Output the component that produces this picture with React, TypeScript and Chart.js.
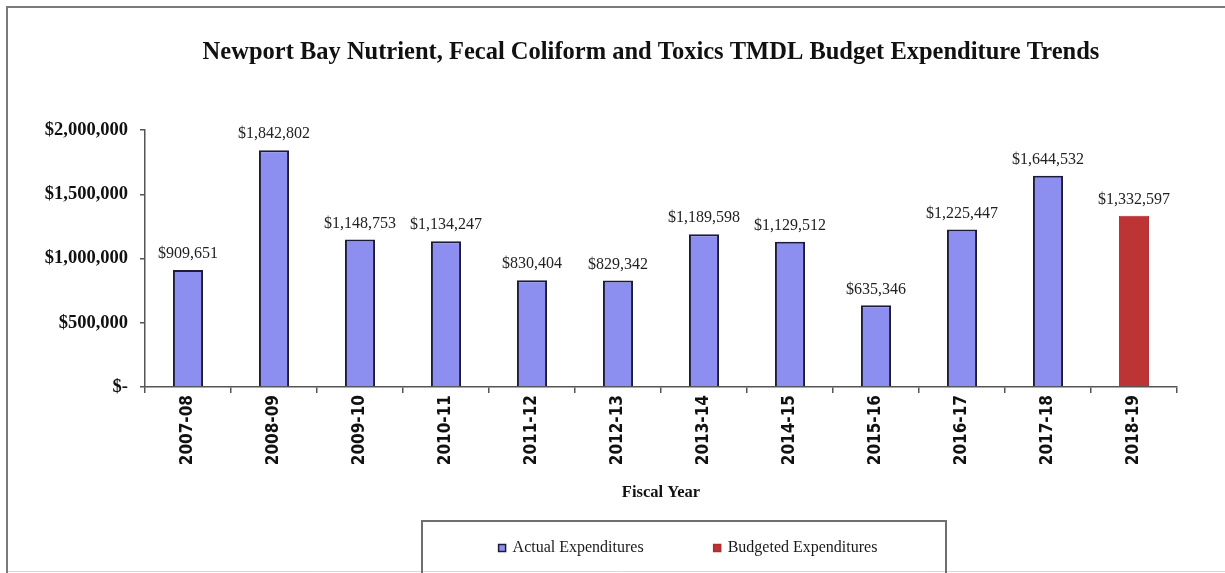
import React, { useEffect, useRef } from "react";
import { Chart, registerables } from "chart.js";

Chart.register(...registerables);

const chartTitle = "Newport Bay Nutrient, Fecal Coliform and Toxics TMDL Budget Expenditure Trends";
const xAxisTitle = "Fiscal Year";
const fiscalYears = [
  "2007-08", "2008-09", "2009-10", "2010-11", "2011-12", "2012-13",
  "2013-14", "2014-15", "2015-16", "2016-17", "2017-18", "2018-19",
];
const actualExpenditures = [
  909651, 1842802, 1148753, 1134247, 830404, 829342,
  1189598, 1129512, 635346, 1225447, 1644532, null,
];
const budgetedExpenditures = [
  null, null, null, null, null, null,
  null, null, null, null, null, 1332597,
];
const yTickValues = [0, 500000, 1000000, 1500000, 2000000];

const SERIF = "'Liberation Serif', 'DejaVu Serif', serif";
const NARROW = "'Liberation Sans Narrow', 'DejaVu Sans Condensed', 'Liberation Sans', sans-serif";

const money = (v: number) => (v === 0 ? "$-" : "$" + Math.round(v).toLocaleString("en-US"));

const framePlugin = {
  id: "frame",
  beforeDraw(chart: any) {
    const { ctx, width, height } = chart;
    ctx.save();
    ctx.fillStyle = "#ffffff";
    ctx.fillRect(0, 0, width, height);
    ctx.strokeStyle = "#7a7a7a";
    ctx.lineWidth = 2;
    ctx.beginPath();
    ctx.moveTo(7, height + 5);
    ctx.lineTo(7, 7);
    ctx.lineTo(width + 5, 7);
    ctx.stroke();
    ctx.strokeStyle = "#d8d8d8";
    ctx.lineWidth = 1;
    ctx.beginPath();
    ctx.moveTo(8, 571.5);
    ctx.lineTo(width, 571.5);
    ctx.stroke();
    ctx.restore();
  },
};

const titlePlugin = {
  id: "centeredTitle",
  afterDraw(chart: any) {
    const { ctx } = chart;
    ctx.save();
    ctx.font = `bold 24.5px ${SERIF}`;
    ctx.fillStyle = "#111111";
    ctx.textAlign = "center";
    ctx.textBaseline = "middle";
    ctx.fillText(chartTitle, 651, 53);
    ctx.restore();
  },
};

const valueLabelPlugin = {
  id: "valueLabels",
  afterDatasetsDraw(chart: any) {
    const { ctx } = chart;
    ctx.save();
    ctx.font = `16px ${SERIF}`;
    ctx.fillStyle = "#222222";
    ctx.textAlign = "center";
    ctx.textBaseline = "bottom";
    chart.data.datasets.forEach((ds: any, di: number) => {
      const meta = chart.getDatasetMeta(di);
      meta.data.forEach((el: any, i: number) => {
        const v = ds.data[i];
        if (v === null || v === undefined) return;
        ctx.fillText(money(v), el.x, el.y - 8);
      });
    });
    ctx.restore();
  },
};

const boxedLegendPlugin = {
  id: "boxedLegend",
  afterDraw(chart: any) {
    const { ctx } = chart;
    const boxLeft = 422;
    const boxRight = 946;
    const boxTop = 521;
    const centerX = 688;
    const rowY = 548;
    ctx.save();
    ctx.strokeStyle = "#6f6f6f";
    ctx.lineWidth = 2;
    ctx.beginPath();
    ctx.moveTo(boxLeft, chart.height + 5);
    ctx.lineTo(boxLeft, boxTop);
    ctx.lineTo(boxRight, boxTop);
    ctx.lineTo(boxRight, chart.height + 5);
    ctx.stroke();
    ctx.font = `16px ${SERIF}`;
    ctx.textBaseline = "middle";
    ctx.textAlign = "left";
    const items = chart.data.datasets.map((ds: any) => ({
      text: ds.label,
      fill: ds.backgroundColor,
      stroke: ds.borderColor,
      w: ctx.measureText(ds.label).width,
    }));
    const marker = 7;
    const gapM = 7;
    const gapItems = 70;
    const total = items.reduce((s: number, it: any) => s + marker + gapM + it.w, 0) + gapItems * (items.length - 1);
    let x = centerX - total / 2;
    items.forEach((it: any) => {
      ctx.fillStyle = it.fill;
      ctx.fillRect(x, rowY - marker / 2, marker, marker);
      ctx.strokeStyle = it.stroke;
      ctx.lineWidth = 1.5;
      ctx.strokeRect(x, rowY - marker / 2, marker, marker);
      ctx.fillStyle = "#1a1a1a";
      ctx.fillText(it.text, x + marker + gapM, rowY);
      x += marker + gapM + it.w + gapItems;
    });
    ctx.restore();
  },
};

export default function App() {
  const canvasRef = useRef<HTMLCanvasElement | null>(null);

  useEffect(() => {
    if (!canvasRef.current) return;
    const chart = new Chart(canvasRef.current, {
      type: "bar",
      data: {
        labels: fiscalYears,
        datasets: [
          {
            label: "Actual Expenditures",
            data: actualExpenditures as any,
            backgroundColor: "#8c8ff0",
            borderColor: "#1c1c3a",
            borderWidth: 2,
            grouped: false,
            barPercentage: 0.35,
            categoryPercentage: 1,
          } as any,
          {
            label: "Budgeted Expenditures",
            data: budgetedExpenditures as any,
            backgroundColor: "#bd3434",
            borderColor: "#b02c2c",
            borderWidth: 1,
            grouped: false,
            barPercentage: 0.35,
            categoryPercentage: 1,
          } as any,
        ],
      },
      options: {
        animation: false,
        responsive: false,
        maintainAspectRatio: false,
        events: [],
        layout: { padding: { left: 10, right: 48, top: 130, bottom: 0 } },
        plugins: {
          legend: { display: false },
          tooltip: { enabled: false },
          title: { display: false },
        },
        scales: {
          x: {
            offset: true,
            grid: {
              display: true,
              offset: true,
              drawOnChartArea: false,
              drawTicks: true,
              tickLength: 6,
              color: "#555555",
              lineWidth: 1.5,
            },
            border: { display: true, color: "#555555", width: 1.5 },
            ticks: {
              minRotation: 90,
              maxRotation: 90,
              autoSkip: false,
              padding: 2,
              color: "#111111",
              font: { family: NARROW, size: 17, weight: "bold" },
            },
            title: {
              display: true,
              text: xAxisTitle,
              color: "#111111",
              font: { family: SERIF, size: 16.5, weight: "bold", lineHeight: 1.2 },
              padding: { top: 0, bottom: 70 },
            },
            afterFit: (scale: any) => {
              scale.height = 186;
            },
          },
          y: {
            min: 0,
            max: 2000000,
            afterBuildTicks: (scale: any) => {
              scale.ticks = yTickValues.map((v) => ({ value: v }));
            },
            grid: {
              display: true,
              drawOnChartArea: false,
              drawTicks: true,
              tickLength: 5,
              color: "#555555",
              lineWidth: 1.5,
            },
            border: { display: true, color: "#555555", width: 1.5 },
            ticks: {
              padding: 12,
              color: "#111111",
              font: { family: SERIF, size: 18.5, weight: "bold" },
              callback: (v: any) => money(Number(v)),
            },
            afterFit: (scale: any) => {
              scale.width = 135;
            },
          },
        },
      },
      plugins: [framePlugin, titlePlugin, valueLabelPlugin, boxedLegendPlugin],
    });
    return () => chart.destroy();
  }, []);

  return (
    <div style={{ position: "fixed", left: 0, top: 0, width: 1225, height: 573, background: "#fff" }}>
      <canvas ref={canvasRef} width={1225} height={573} style={{ width: 1225, height: 573, display: "block" }} />
    </div>
  );
}
